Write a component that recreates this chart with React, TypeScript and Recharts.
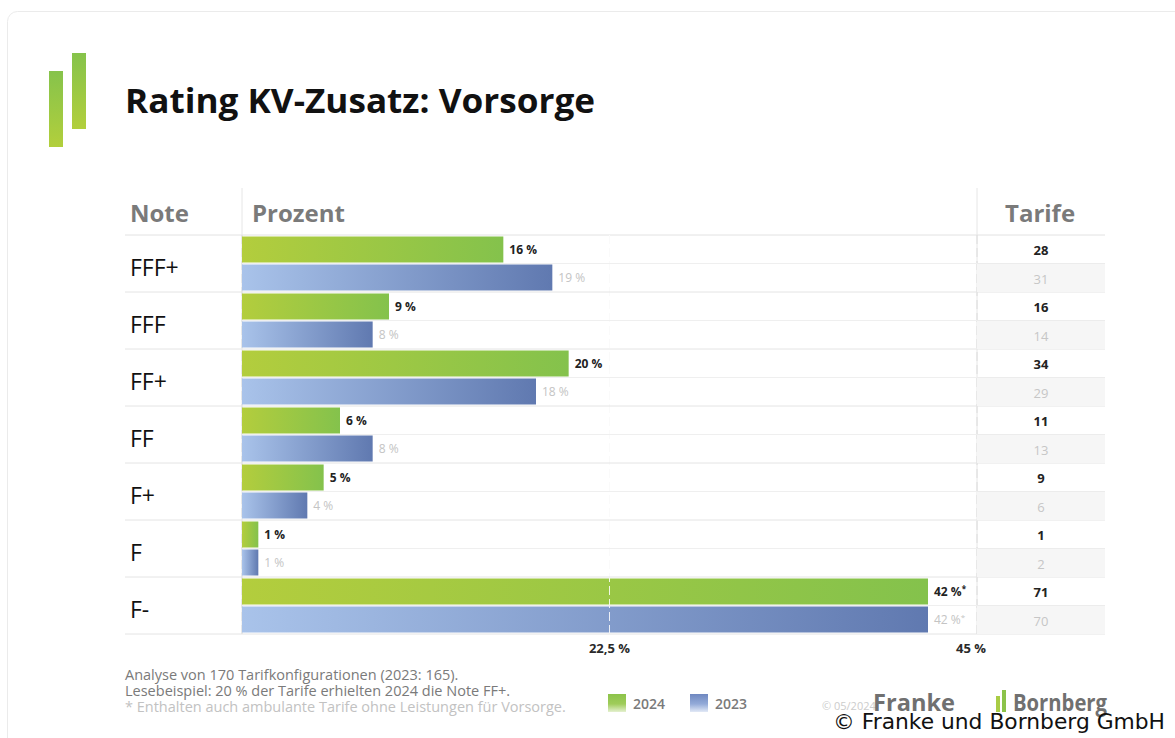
import React from "react";
import { BarChart, Bar, XAxis, YAxis, CartesianGrid, ReferenceLine, LabelList } from "recharts";

// Rating-Daten (Anteil in % je Note, Anzahl Tarife)
const notes = ["FFF+", "FFF", "FF+", "FF", "F+", "F", "F-"];
const share2024 = [16, 9, 20, 6, 5, 1, 42];
const share2023 = [19, 8, 18, 8, 4, 1, 42];
const tarife2024 = [28, 16, 34, 11, 9, 1, 71];
const tarife2023 = [31, 14, 29, 13, 6, 2, 70];
const footnoted = [false, false, false, false, false, false, true];
const xTicks = [22.5, 45];
const footerLines = [
  "Analyse von 170 Tarifkonfigurationen (2023: 165).",
  "Lesebeispiel: 20 % der Tarife erhielten 2024 die Note FF+.",
  "* Enthalten auch ambulante Tarife ohne Leistungen für Vorsorge.",
];

const data = notes.map((note, i) => ({
  note,
  y2024: share2024[i],
  y2023: share2023[i],
}));

const FONT = '"Open Sans", "Noto Sans", sans-serif';
const PLOT_TOP = 235;
const PLOT_BOTTOM = 634;
const ROW = (PLOT_BOTTOM - PLOT_TOP) / notes.length;

const fmt = (v: number) => String(v).replace(".", ",") + " %";

const NoteTick = (props: any) => {
  const { y, payload } = props;
  return (
    <g>
      <line x1={242} x2={1105} y1={y} y2={y} stroke="#efefef" />
      <line x1={125} x2={1105} y1={y + ROW / 2} y2={y + ROW / 2} stroke="#e4e4e4" />
      <text x={130} y={y + 3} dominantBaseline="central" fontFamily={FONT} fontSize={23} fontWeight={500} fill="#111">
        {payload.value}
      </text>
    </g>
  );
};

const TarifeTick = (props: any) => {
  const { y, payload } = props;
  const i = notes.indexOf(payload.value);
  return (
    <g>
      <rect x={977} y={y} width={128} height={ROW / 2} fill="#f6f6f6" />
      <line x1={977} x2={1105} y1={y} y2={y} stroke="#ececec" />
      <text x={1041} y={y - ROW / 4 + 1} textAnchor="middle" dominantBaseline="central" fontFamily={FONT} fontSize={13} fontWeight={700} fill="#222">
        {tarife2024[i]}
      </text>
      <text x={1041} y={y + ROW / 4 + 1} textAnchor="middle" dominantBaseline="central" fontFamily={FONT} fontSize={13} fill="#c6c6c6">
        {tarife2023[i]}
      </text>
    </g>
  );
};

const PercentTick = (props: any) => {
  const { x, payload } = props;
  const dx = payload.value === 45 ? -6 : 0;
  return (
    <text x={x + dx} y={648} textAnchor="middle" dominantBaseline="central" fontFamily={FONT} fontSize={13} fontWeight={700} fill="#2a2a2a">
      {fmt(payload.value)}
    </text>
  );
};

const barLabel = (strong: boolean) => (props: any) => {
  const { x, y, width, height, value, index } = props;
  return (
    <text
      x={x + width + 6}
      y={y + height / 2}
      dominantBaseline="central"
      fontFamily={FONT}
      fontSize={12}
      fontWeight={strong ? 700 : 400}
      fill={strong ? "#222" : "#c4c4c4"}
    >
      {fmt(value)}
      {footnoted[index] ? <tspan dy={-4} fontSize={8}>*</tspan> : null}
    </text>
  );
};

export default function App() {
  return (
    <div style={{ position: "absolute", left: 0, top: 0, width: 1175, height: 738, background: "#fff", overflow: "hidden" }}>
      <svg width={1175} height={738} style={{ position: "absolute", left: 0, top: 0 }}>
        <defs>
          <linearGradient id="logoG" x1="0" y1="0" x2="0" y2="1">
            <stop offset="0%" stopColor="#86c34b" />
            <stop offset="100%" stopColor="#b2cf3c" />
          </linearGradient>
          <linearGradient id="legG" x1="0" y1="0" x2="0" y2="1">
            <stop offset="0%" stopColor="#8cc34a" />
            <stop offset="55%" stopColor="#9fcc5a" />
            <stop offset="100%" stopColor="#e4f0cf" />
          </linearGradient>
          <linearGradient id="legB" x1="0" y1="0" x2="0" y2="1">
            <stop offset="0%" stopColor="#6f88c0" />
            <stop offset="55%" stopColor="#93aad8" />
            <stop offset="100%" stopColor="#e2e9f6" />
          </linearGradient>
        </defs>
        <rect x={7.5} y={11.5} width={1220} height={800} rx={10} fill="#fff" stroke="#ebebeb" />
        <rect x={49} y={71} width={14} height={76} fill="url(#logoG)" />
        <rect x={72} y={53} width={14} height={76} fill="url(#logoG)" />
        <text x={125} y={113} fontFamily={FONT} fontSize={34} fontWeight={700} fill="#111" textLength={470} lengthAdjust="spacingAndGlyphs">
          Rating KV-Zusatz: Vorsorge
        </text>
        <text x={130} y={222} fontFamily={FONT} fontSize={24} fontWeight={700} fill="#7a7a7a">Note</text>
        <text x={252} y={222} fontFamily={FONT} fontSize={24} fontWeight={700} fill="#7a7a7a">Prozent</text>
        <text x={1005} y={222} fontFamily={FONT} fontSize={24} fontWeight={700} fill="#7a7a7a">Tarife</text>
        <line x1={125} x2={1105} y1={235} y2={235} stroke="#e2e2e2" />
        <line x1={242} x2={242} y1={188} y2={634} stroke="#e6e6e6" />
        <line x1={977} x2={977} y1={188} y2={634} stroke="#e6e6e6" />
        {footerLines.map((t, i) => (
          <text key={t} x={125} y={680 + i * 16} fontFamily={FONT} fontSize={14.5} fill={i === 2 ? "#c2c2c2" : "#7a7a7a"}>
            {t}
          </text>
        ))}
        <rect x={608} y={694} width={18} height={18} fill="url(#legG)" />
        <text x={633} y={709} fontFamily={FONT} fontSize={14} fontWeight={600} fill="#7a7a7a">2024</text>
        <rect x={690} y={694} width={18} height={18} fill="url(#legB)" />
        <text x={715} y={709} fontFamily={FONT} fontSize={14} fontWeight={600} fill="#7a7a7a">2023</text>
        <text x={822} y={710} fontFamily={FONT} fontSize={11} fill="#cccccc">© 05/2024</text>
        <text x={873} y={711} fontFamily={FONT} fontSize={23} fontWeight={700} fill="#707070" textLength={82} lengthAdjust="spacingAndGlyphs">Franke</text>
        <rect x={996} y={696} width={4} height={16} fill="#a9cc45" />
        <rect x={1002} y={690} width={4} height={22} fill="#8cc34a" />
        <text x={1013} y={711} fontFamily={FONT} fontSize={23} fontWeight={700} fill="#707070" textLength={94} lengthAdjust="spacingAndGlyphs">Bornberg</text>
      </svg>

      <div style={{ position: "absolute", left: 0, top: 0 }}>
        <BarChart
          width={1175}
          height={738}
          data={data}
          layout="vertical"
          margin={{ top: PLOT_TOP, right: 70, bottom: 738 - PLOT_BOTTOM - 30, left: 125 }}
          barCategoryGap={1.5}
          barGap={2}
        >
          <defs>
            <linearGradient id="barG" x1="0" y1="0" x2="1" y2="0">
              <stop offset="0%" stopColor="#b3cd3d" />
              <stop offset="100%" stopColor="#84c24c" />
            </linearGradient>
            <linearGradient id="barB" x1="0" y1="0" x2="1" y2="0">
              <stop offset="0%" stopColor="#a9c3ea" />
              <stop offset="100%" stopColor="#6079b0" />
            </linearGradient>
          </defs>
          <CartesianGrid horizontal={false} stroke="#dcdcdc" strokeDasharray="9 4" />
          <XAxis type="number" domain={[0, 45]} ticks={xTicks} height={30} axisLine={false} tickLine={false} tick={<PercentTick />} />
          <YAxis yAxisId="left" type="category" dataKey="note" width={117} axisLine={false} tickLine={false} tick={<NoteTick />} />
          <YAxis yAxisId="right" orientation="right" type="category" dataKey="note" width={128} axisLine={false} tickLine={false} tick={<TarifeTick />} />
          <Bar yAxisId="left" dataKey="y2024" fill="url(#barG)" isAnimationActive={false}>
            <LabelList dataKey="y2024" content={barLabel(true)} />
          </Bar>
          <Bar yAxisId="left" dataKey="y2023" fill="url(#barB)" isAnimationActive={false}>
            <LabelList dataKey="y2023" content={barLabel(false)} />
          </Bar>
          <ReferenceLine yAxisId="left" x={22.5} stroke="#ffffff" strokeOpacity={0.85} strokeDasharray="9 4" />
        </BarChart>
      </div>

      <div style={{ position: "absolute", left: 833, top: 709, fontFamily: '"DejaVu Sans", sans-serif', fontSize: 21.8, color: "#111", whiteSpace: "nowrap", lineHeight: "26px" }}>
        © Franke und Bornberg GmbH
      </div>
    </div>
  );
}
